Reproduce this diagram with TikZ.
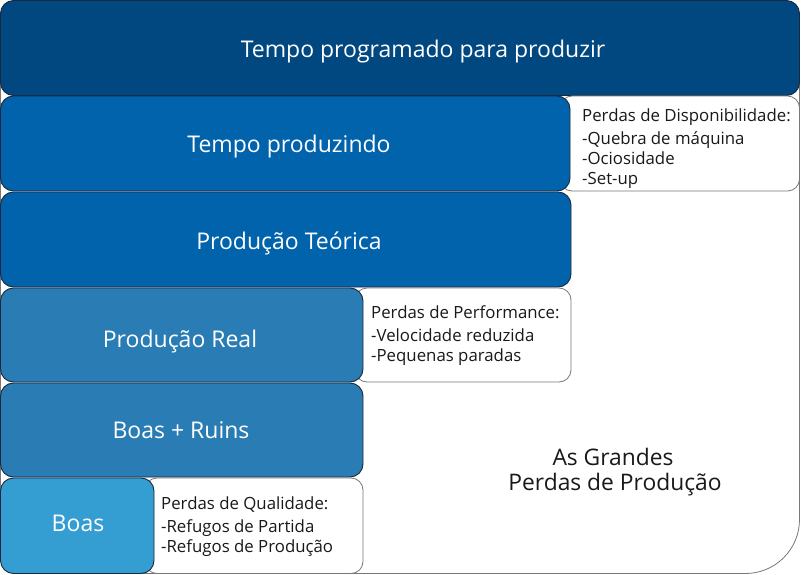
\documentclass[tikz,border=0pt]{standalone}
\usepackage{fontspec}
\setmainfont{Open Sans}
\definecolor{cTop}{RGB}{1,71,128}
\definecolor{cMid}{RGB}{2,99,173}
\definecolor{cLow}{RGB}{42,125,180}
\definecolor{cBoas}{RGB}{52,158,211}
\definecolor{cEdge}{RGB}{25,40,60}
\definecolor{cGray}{RGB}{120,120,120}
\definecolor{cText}{RGB}{25,25,25}
\begin{document}
\begin{tikzpicture}[x=1pt,y=-1pt,
  lvl/.style={draw=cEdge,line width=0.9pt,rounded corners=13pt},
  lossbox/.style={draw=cGray,line width=0.8pt,fill=white,rounded corners=12pt},
  bigtext/.style={text=white,font=\fontsize{23}{27}\selectfont,inner sep=0pt,anchor=base},
  losstext/.style={text=cText,font=\fontsize{16.8}{20}\selectfont,anchor=base west,inner sep=0pt},
  captext/.style={text=cText,font=\fontsize{22.8}{27}\selectfont,anchor=base,inner sep=0pt},
]
\useasboundingbox (0,0) rectangle (801,575);
% outer frame
\path[draw=cGray,line width=0.8pt,fill=white,rounded corners=54pt] (0.5,0.5) rectangle (799.5,573.5);
% top level
\path[lvl,fill=cTop] (0.5,0.5) rectangle (799.5,95.5);
\node[bigtext] (t1) at (423,58) {Tempo programado para produzir};
% availability losses
\path[lossbox] (560,96) rectangle (799.5,191);
\node[losstext] (l1a) at (582,122) {Perdas de Disponibilidade:};
\node[losstext] (l1b) at (582,145) {-Quebra de máquina};
\node[losstext] (l1c) at (582,165) {-Ociosidade};
\node[losstext] (l1d) at (582,185) {-Set-up};
\path[lvl,fill=cMid] (0.5,96) rectangle (570,191);
\node[bigtext] (t2) at (289,153) {Tempo produzindo};
\path[lvl,fill=cMid] (0.5,192) rectangle (571,287);
\node[bigtext] (t3) at (289,249) {Produção Teórica};
% performance losses
\path[lossbox] (355,288) rectangle (571,382);
\node[losstext] (l2a) at (371,318) {Perdas de Performance:};
\node[losstext] (l2b) at (371,341) {-Velocidade reduzida};
\node[losstext] (l2c) at (371,361) {-Pequenas paradas};
\path[lvl,fill=cLow] (0.5,288) rectangle (363,382);
\node[bigtext] (t4) at (180,347) {Produção Real};
\path[lvl,fill=cLow] (0.5,383) rectangle (363,477);
\node[bigtext] (t5) at (181,438.5) {Boas + Ruins};
% quality losses
\path[lossbox] (145,478) rectangle (363,573.5);
\node[losstext] (l3a) at (161,509) {Perdas de Qualidade:};
\node[losstext] (l3b) at (161,532) {-Refugos de Partida};
\node[losstext] (l3c) at (161,552) {-Refugos de Produção};
\path[lvl,fill=cBoas] (0.5,478) rectangle (154,573.5);
\node[bigtext] (t6) at (78,531) {Boas};
% caption
\node[captext] (cap1) at (613,465) {As Grandes};
\node[captext] (cap2) at (615,490) {Perdas de Produção};
\end{tikzpicture}
\end{document}
